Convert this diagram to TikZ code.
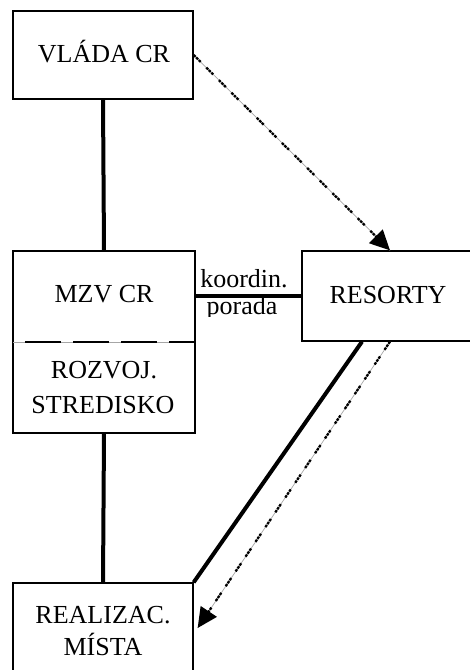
\documentclass[tikz,border=0pt]{standalone}
\usepackage{fontspec}
\setmainfont{Liberation Serif}
\usetikzlibrary{arrows.meta}
\begin{document}
\begin{tikzpicture}[x=1pt,y=-1pt,
  box/.style={draw, line width=1.3pt, inner sep=0pt, fill=white},
  txt/.style={font=\fontsize{26}{30}\selectfont, inner sep=0pt, anchor=base},
  heavy/.style={line width=4pt},
  dotline/.style={line width=2.3pt, dash pattern=on 2.6pt off 1pt on 2.6pt off 1pt on 2.6pt off 8pt,
    preaction={draw, -, solid, gray!70, line width=0.7pt}},
  divider/.style={line width=1.4pt, dash pattern=on 36pt off 12pt, dash phase=-12pt,
    preaction={draw, solid, gray!70, line width=0.7pt}},
  tip/.style={-{Triangle[length=20pt,width=19pt]}}
]
\path[use as bounding box] (0,0) rectangle (470,670);
\clip (0,0) rectangle (470,670);

% boxes
\node[box, minimum width=180pt, minimum height=88pt] (vlada) at (103,55) {};
\node[box, minimum width=182pt, minimum height=182pt] (mzv) at (104,342) {};
\node[box, minimum width=180pt, minimum height=90pt] (resorty) at (392,296) {};
\node[box, minimum width=180pt, minimum height=90pt] (realiz) at (103,628) {};

% divider inside MZV box
\draw[divider] ([xshift=1pt]mzv.west) -- ([xshift=-1pt]mzv.east);

% texts
\node[txt] (tvlada) at (104,62) {VLÁDA CR};
\node[txt] (tmzv) at (104,302) {MZV CR};
\node[txt] (troz1) at (104,378) {ROZVOJ.};
\node[txt] (troz2) at (103,413) {STREDISKO};
\node[txt] (tres) at (388,303) {RESORTY};
\node[txt] (treal1) at (103,623) {REALIZAC.};
\node[txt] (treal2) at (103,655) {MÍSTA};
\node[txt] (tkoord) at (244,287) {koordin.};
\begin{scope}
\clip (190,290) rectangle (300,316);
\node[txt] (tporada) at (242,314) {porada};
\end{scope}

% connectors
\draw[heavy] (vlada.south) -- (mzv.north);
\draw[heavy] (mzv.south) -- (realiz.north);
\draw[heavy] (mzv.east |- resorty.west) -- (resorty.west);
\draw[heavy] ([xshift=-30pt]resorty.south) -- (realiz.north east);
\draw[dotline, tip] (vlada.east) -- ([xshift=-2pt]resorty.north);
\draw[dotline, tip] ([xshift=-2pt]resorty.south) -- ([xshift=4pt]realiz.east);
\end{tikzpicture}
\end{document}
